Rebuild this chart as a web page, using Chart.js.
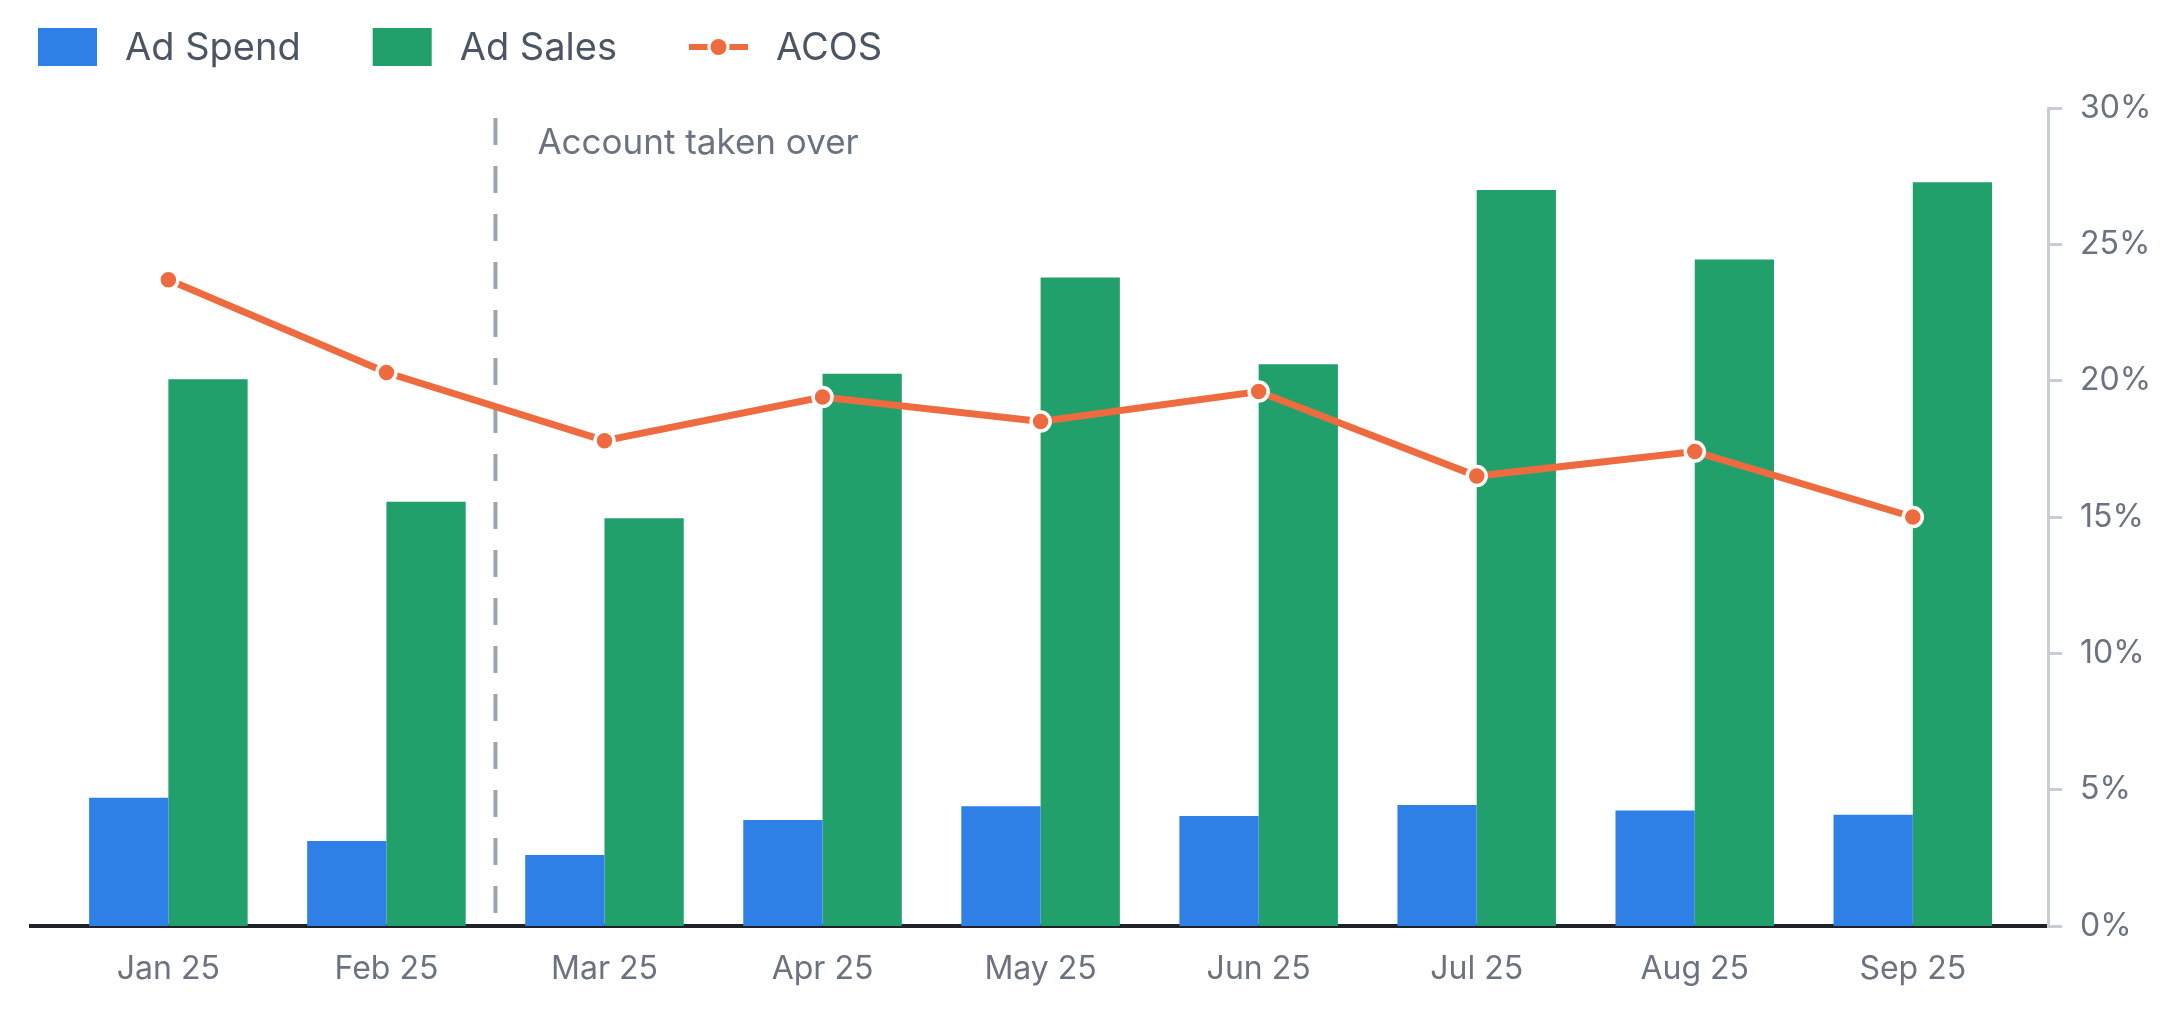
<!DOCTYPE html>
<html>
<head>
<meta charset="utf-8">
<script src="https://cdn.jsdelivr.net/npm/chart.js@4.4.1/dist/chart.umd.min.js"></script>
<style>
  html, body { margin: 0; padding: 0; background: #fff; }
  #wrap { width: 2180px; height: 1030px; }
</style>
</head>
<body>
<div id="wrap"><canvas id="chart-acos"></canvas></div>
<script>
/*
  ==================================================
  ====================== DATA ======================
  ==================================================
*/
const months = ["Jan 25", "Feb 25", "Mar 25", "Apr 25", "May 25", "Jun 25", "Jul 25", "Aug 25", "Sep 25"];
const adSpend = [4700, 3120, 2600, 3890, 4390, 4030, 4440, 4240, 4080];
const adSales = [20050, 15560, 14950, 20250, 23780, 20600, 26990, 24440, 27280];
const acos = [23.7, 20.3, 17.8, 19.4, 18.5, 19.6, 16.5, 17.4, 15.0];
const acosTicks = [0, 5, 10, 15, 20, 25, 30];
const takeoverAt = 1.5;
const takeoverLabel = "Account taken over";

const BLUE = "#2F80E6";
const GREEN = "#22A06B";
const ORANGE = "#EE6B40";
const FONT = "Inter, 'Noto Sans', sans-serif";

/*
  ==================================================
  ===================== PLUGINS ====================
  ==================================================
*/

// leyenda dibujada a mano (cuadro / linea con punto)
let legendPlugin = {
  id: "customLegend",
  afterDraw(chart) {
    let ctx = chart.ctx;
    let x = 38, cy = 47, bw = 59, bh = 38;
    ctx.save();
    ctx.font = "38px " + FONT;
    ctx.textBaseline = "middle";
    chart.data.datasets.forEach(ds => {
      if (ds.type === "line") {
        ctx.fillStyle = ds.borderColor;
        ctx.fillRect(x, cy - 3, bw, 6);
        ctx.beginPath();
        ctx.arc(x + bw / 2, cy, 11, 0, Math.PI * 2);
        ctx.fillStyle = "#fff";
        ctx.fill();
        ctx.beginPath();
        ctx.arc(x + bw / 2, cy, 8, 0, Math.PI * 2);
        ctx.fillStyle = ds.borderColor;
        ctx.fill();
      } else {
        ctx.fillStyle = ds.backgroundColor;
        ctx.fillRect(x, cy - bh / 2, bw, bh);
      }
      ctx.fillStyle = "#4B5563";
      ctx.fillText(ds.label, x + bw + 28, cy + 2);
      x += bw + 28 + ctx.measureText(ds.label).width + 72;
    });
    ctx.restore();
  }
};

// linea punteada "Account taken over"
let takeoverPlugin = {
  id: "takeover",
  beforeDatasetsDraw(chart) {
    let ctx = chart.ctx;
    let xs = chart.scales.x;
    let ys = chart.scales.y1;
    let px = xs.getPixelForValue(takeoverAt);
    ctx.save();
    ctx.strokeStyle = "#9CA3AB";
    ctx.lineWidth = 4;
    ctx.setLineDash([27, 21]);
    ctx.beginPath();
    ctx.moveTo(px, 118);
    ctx.lineTo(px, ys.getPixelForValue(0));
    ctx.stroke();
    ctx.setLineDash([]);
    ctx.font = "35px " + FONT;
    ctx.fillStyle = "#6B7280";
    ctx.textBaseline = "middle";
    ctx.fillText(takeoverLabel, px + 42, 143);
    ctx.restore();
  }
};

/*
  ==================================================
  ====================== CHART =====================
  ==================================================
*/

/** @type {HTMLCanvasElement} */
let ctxAcos = document.getElementById("chart-acos").getContext("2d");

let chart = new Chart(ctxAcos, {
  type: "bar",
  data: {
    datasets: [{
      label: "Ad Spend",
      backgroundColor: BLUE,
      data: adSpend.map((v, i) => ({ x: i, y: v })),
      yAxisID: "y",
      order: 1
    }, {
      label: "Ad Sales",
      backgroundColor: GREEN,
      data: adSales.map((v, i) => ({ x: i, y: v })),
      yAxisID: "y",
      order: 1
    }, {
      type: "line",
      label: "ACOS",
      borderColor: ORANGE,
      backgroundColor: ORANGE,
      borderWidth: 7,
      pointRadius: 9.5,
      pointBorderWidth: 3.5,
      pointBorderColor: "#fff",
      pointBackgroundColor: ORANGE,
      data: acos.map((v, i) => ({ x: i, y: v })),
      yAxisID: "y1",
      order: 0
    }]
  },
  options: {
    responsive: true,
    maintainAspectRatio: false,
    animation: false,
    devicePixelRatio: 1,
    categoryPercentage: 0.727,
    barPercentage: 1,
    layout: { padding: { top: 108, left: 31, right: 0, bottom: 0 } },
    plugins: { legend: { display: false }, tooltip: { enabled: false } },
    scales: {
      x: {
        type: "linear",
        offset: false,
        min: -0.63,
        max: 8.62,
        grid: { display: false },
        border: { color: "#1F2227", width: 4 },
        afterBuildTicks: s => { s.ticks = months.map((m, i) => ({ value: i })); },
        afterFit: s => { s.height = 104; },
        ticks: {
          color: "#6B7280",
          font: { family: FONT, size: 32 },
          padding: 16,
          maxRotation: 0,
          autoSkip: false,
          callback: v => months[v]
        }
      },
      y: {
        display: false,
        min: 0,
        max: 30000
      },
      y1: {
        position: "right",
        min: 0,
        max: 30,
        afterBuildTicks: s => { s.ticks = acosTicks.map(v => ({ value: v })); },
        afterFit: s => { s.width = 2180 - 2048; },
        grid: { drawOnChartArea: false, drawTicks: true, tickLength: 14, color: "#C8CDD5", lineWidth: 3 },
        border: { color: "#C8CDD5", width: 3 },
        ticks: {
          color: "#6B7280",
          font: { family: FONT, size: 32 },
          padding: 18,
          callback: v => v + "%"
        }
      }
    }
  },
  plugins: [legendPlugin, takeoverPlugin]
});
</script>
</body>
</html>
